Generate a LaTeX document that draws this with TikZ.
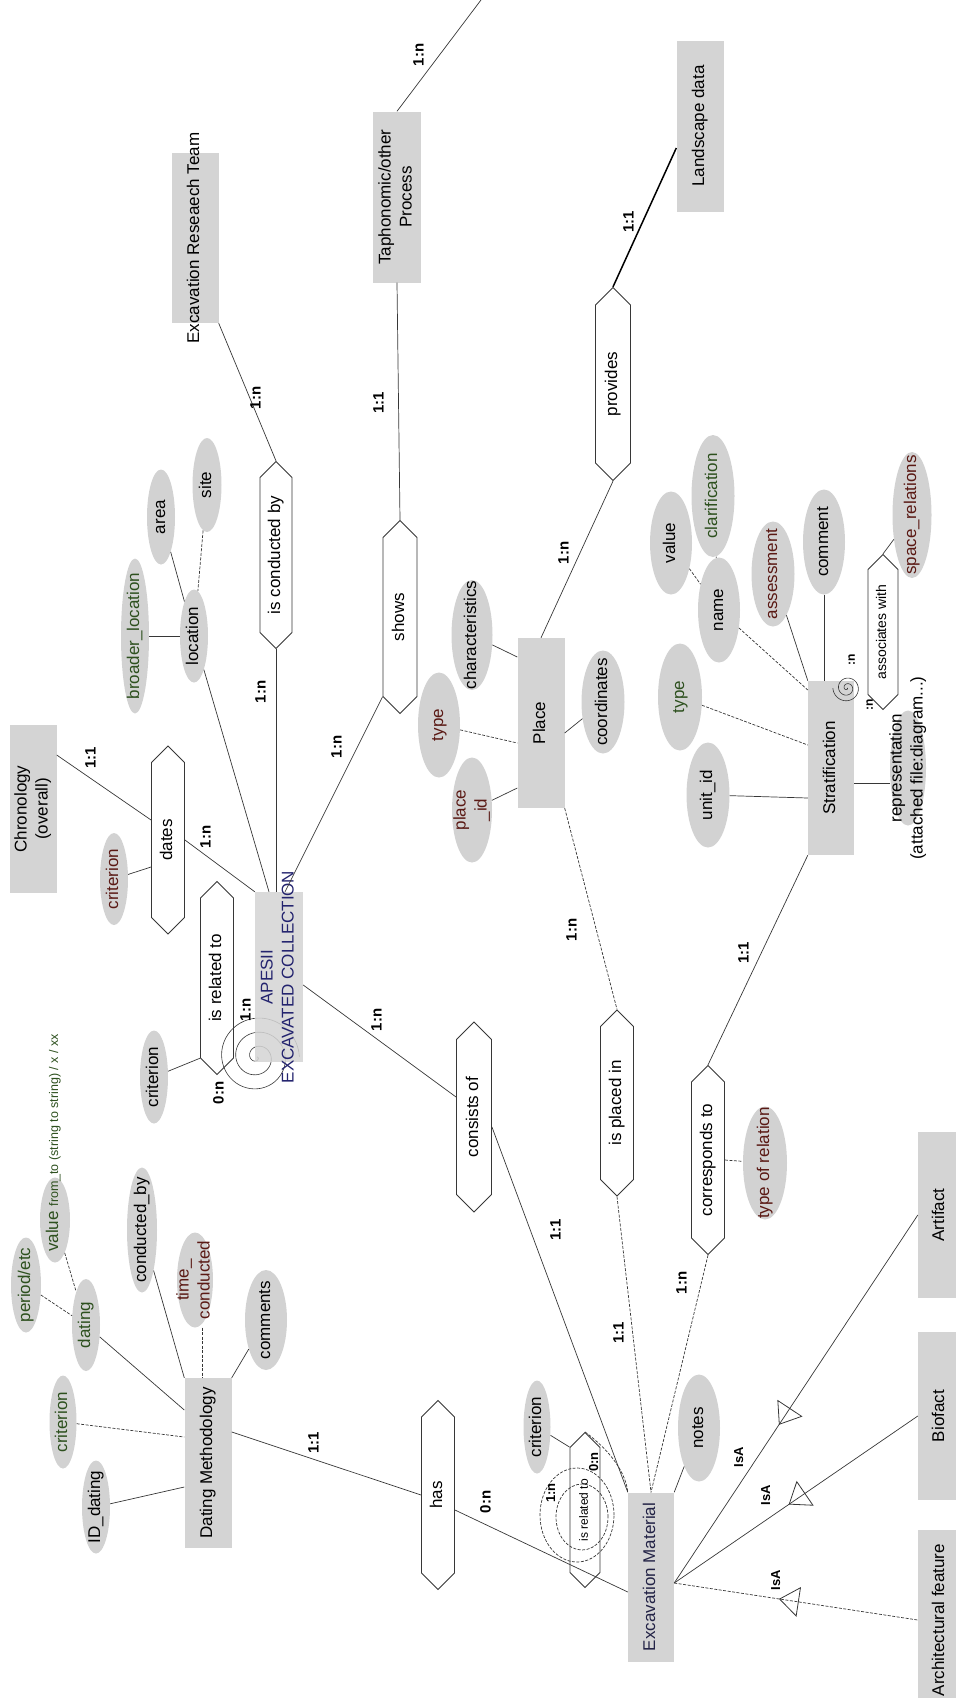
\documentclass[tikz,border=0pt]{standalone}
\usepackage{fontspec}
\setmainfont{Liberation Sans}
\usetikzlibrary{shapes.geometric,shapes.symbols,calc,decorations.markings,arrows.meta}
\definecolor{boxgray}{RGB}{212,212,212}
\definecolor{ellgray}{RGB}{210,210,210}
\definecolor{linec}{RGB}{55,55,55}
\definecolor{attrgreen}{RGB}{45,80,30}
\definecolor{attrred}{RGB}{90,25,20}
\definecolor{navy}{RGB}{35,35,110}
\definecolor{emtext}{RGB}{35,35,70}
\newcommand\vt[1]{\makebox[0pt]{\smash{\raisebox{-.5\height}{\rotatebox{90}{\begin{tabular}{@{}c@{}}#1\end{tabular}}}}}}
\begin{document}
\begin{tikzpicture}[x=1pt,y=-1pt,
  sz/.style 2 args={minimum width=#1pt, minimum height=#2pt},
  ent/.style={rectangle, fill=boxgray, inner sep=0pt, font=\fontsize{17}{21}\selectfont},
  attr/.style={ellipse, fill=ellgray, inner sep=0pt, font=\fontsize{17}{21}\selectfont},
  rel/.style={signal, signal to=north and south, signal pointer angle=90, draw=linec, line width=0.9pt, fill=white, inner sep=0pt, font=\fontsize{17}{21}\selectfont},
  conn/.style={draw=linec, line width=0.7pt},
  dsh/.style={conn, dash pattern=on 3pt off 1.5pt},
  card/.style={inner sep=0pt, font=\bfseries\fontsize{15}{18}\selectfont},
  isal/.style={inner sep=0pt, font=\bfseries\fontsize{13}{16}\selectfont},
  isa/.style={postaction={decorate, decoration={markings, mark=at position #1 with {\arrowreversed[line width=0.8pt, solid]{Triangle[open, length=20pt, width=30pt]}}}}},
]
\useasboundingbox (0,0) rectangle (956,1698);
\clip (0,0) rectangle (956,1698);

% ---------- entities
\node[ent, sz={47}{170}] (ert) at (195,238) {\vt{Excavation Reseaech Team}};
\node[ent, sz={48}{171}] (tap) at (397,197) {\vt{Taphonomic/other\\Process}};
\node[ent, sz={47}{171}] (land) at (700,126) {\vt{Landscape data}};
\node[ent, sz={47}{168}] (chron) at (33,809) {\vt{Chronology\\(overall)}};
\node[ent, sz={47}{170}] (place) at (541,723) {\vt{Place}};
\node[ent, sz={46}{174}] (strat) at (831,768) {\vt{Stratification}};
\node[ent, sz={47}{170}] (dm) at (208,1463) {\vt{Dating Methodology}};
\node[ent, sz={46}{169}, text=emtext] (em) at (651,1577) {\vt{Excavation Material}};
\node[ent, sz={44}{166}] (art) at (940,1215) {\vt{Artifact}};
\node[ent, sz={44}{168}] (bio) at (940,1416) {\vt{Biofact}};
\node[ent, sz={44}{180}] (arch) at (940,1620) {\vt{Architectural feature}};

% ---------- relationships
\node[rel, sz={32}{155}] (conducted) at (276,555) {\vt{is conducted by}};
\node[rel, sz={34}{159}] (shows) at (400,617) {\vt{shows}};
\node[rel, sz={35}{158}] (provides) at (613,384) {\vt{provides}};
\node[rel, sz={33}{155}] (dates) at (168,840) {\vt{dates}};
\node[rel, sz={33}{160}] (rel1) at (217,978) {\vt{is related to}};
\node[rel, sz={35}{155}] (consists) at (474,1117) {\vt{consists of}};
\node[rel, sz={33}{153}] (placedin) at (617,1103) {\vt{is placed in}};
\node[rel, sz={33}{156}] (corresp) at (708,1160) {\vt{corresponds to}};
\node[rel, sz={33}{156}] (has) at (438,1495) {\vt{has}};
\node[rel, sz={30}{125}, font=\fontsize{12}{14}\selectfont] (rel2) at (585,1510) {\vt{is related to}};
\node[rel, sz={30}{125}, font=\fontsize{14}{16}\selectfont] (assoc) at (883,632) {\vt{associates with}};

% ---------- attributes
\node[attr, sz={28}{155}, text=attrgreen] (broader) at (135,636) {\vt{broader\_location}};
\node[attr, sz={28}{93}] (location) at (194,636) {\vt{location}};
\node[attr, sz={28}{95}] (area) at (161,517) {\vt{area}};
\node[attr, sz={29}{94}] (site) at (207,485) {\vt{site}};
\node[attr, sz={28}{92}, text=attrred] (crit1) at (114,879) {\vt{criterion}};
\node[attr, sz={28}{93}] (crit2) at (154,1077) {\vt{criterion}};
\node[attr, sz={41}{110}] (charac) at (472,635) {\vt{characteristics}};
\node[attr, sz={42}{105}, text=attrred] (ptype) at (439,725) {\vt{type}};
\node[attr, sz={40}{105}, text=attrred] (pid) at (472,810) {\vt{place\\\_id}};
\node[attr, sz={43}{103}] (coord) at (603,702) {\vt{coordinates}};
\node[attr, sz={43}{105}] (uid) at (708,795) {\vt{unit\_id}};
\node[attr, sz={44}{107}, text=attrgreen] (stype) at (680,697) {\vt{type}};
\node[attr, sz={42}{105}] (name) at (719,610) {\vt{name}};
\node[attr, sz={42}{103}] (value) at (671,543) {\vt{value}};
\node[attr, sz={43}{122}, text=attrgreen] (clar) at (713,496) {\vt{clarification}};
\node[attr, sz={43}{105}, text=attrred] (assess) at (773,574) {\vt{assessment}};
\node[attr, sz={42}{105}] (comment) at (824,542) {\vt{comment}};
\node[attr, sz={39}{126}, text=attrred] (space) at (912,515) {\vt{space\_relations}};
\node[attr, sz={36}{115}] (repr) at (908,768) {\vt{representation\\(attached file:diagram...)}};
\node[attr, sz={27}{93}, text=attrgreen] (critDM) at (63,1422) {\vt{criterion}};
\node[attr, sz={28}{93}] (iddat) at (96,1507) {\vt{ID\_dating}};
\node[attr, sz={28}{92}, text=attrgreen] (dating) at (86,1325) {\vt{dating}};
\node[attr, sz={30}{95}, text=attrgreen] (period) at (26,1285) {\vt{period/etc}};
\node[attr, sz={30}{85}] (valft) at (55,1220) {};
\node[inner sep=0pt, text=attrgreen, font=\fontsize{17}{21}\selectfont] (valtxt) at (54,1143) {\vt{value {\fontsize{12.5}{14}\selectfont from\_to (string to string) / x / xx}}};
\node[attr, sz={36}{95}, text=attrred] (timec) at (195,1280) {\vt{time\_\\conducted}};
\node[attr, sz={30}{125}] (condby) at (142,1230) {\vt{conducted\_by}};
\node[attr, sz={42}{100}] (comments) at (266,1320) {\vt{comments}};
\node[attr, sz={27}{93}] (critEM) at (537,1427) {\vt{criterion}};
\node[attr, sz={42}{107}] (notes) at (699,1428) {\vt{notes}};
\node[attr, sz={44}{113}, text=attrred] (typerel) at (765,1163) {\vt{type of relation}};

% APESII box (drawn after its spiral)
\draw[conn, line width=0.6pt] plot[domain=0:18.85, samples=160, smooth, variable=\t] ({257+2.25*\t*cos(\t r)}, {1057+2.25*\t*sin(\t r)});
\node[ent, sz={48}{170}, text=navy, fill opacity=0.85, text opacity=1] (apes) at (279,977) {\vt{APESII\\EXCAVATED COLLECTION}};

% ---------- connectors
\coordinate (topend) at (484,-4);
\draw[conn] (ert.south east) -- (conducted.north);
\draw[conn] (tap.north) -- (topend);
\draw[conn] (tap.south) -- (shows.north);
\draw[draw=black, line width=1.5pt] (provides.north) -- ([yshift=-22pt]land.west);
\draw[conn] (place.north) -- (provides.south);
\draw[conn] (conducted.south) -- (conducted.south |- apes.north);
\draw[conn] (location) -- ([xshift=-10pt]apes.north);
\draw[conn] (shows.south west) -- ([xshift=6pt]apes.north);
\draw[conn] (dates.east) -- (apes.north west);
\draw[conn] ([yshift=54pt]chron.east) -- ([yshift=20pt]dates.west);
\draw[conn] (crit1) -- ([yshift=-27pt]dates.west);
\draw[conn] (broader) -- (location);
\draw[conn] (area) -- (location);
\draw[dsh] (site) -- (location);
\draw[conn] ([yshift=-8pt]apes.east) -- ([yshift=20pt]consists.west);
\draw[conn] ([yshift=-10pt]consists.east) -- (em.north west);
\draw[dsh] (place.south east) -- (placedin.north);
\draw[dsh] (placedin.south) -- (em.north);
\draw[conn] (strat.south west) -- (corresp.north);
\draw[dsh] (corresp.south) -- (em.north);
\draw[dsh] (corresp.east) -- (typerel);
\draw[conn] (crit2) -- (rel1.south west);
% place
\draw[conn] (charac) -- ([yshift=66pt]place.west);
\draw[dsh] (ptype) -- ([yshift=-20pt]place.west);
\draw[conn] (pid) -- ([yshift=-65pt]place.west);
\draw[conn] (coord) -- ([yshift=-10pt]place.east);
% stratification
\draw[conn] (uid) -- ([yshift=-30pt]strat.west);
\draw[dsh] (stype) -- ([yshift=23pt]strat.west);
\draw[dsh] (name) -- ([yshift=78pt]strat.west);
\draw[conn] (assess) -- (strat.north west);
\draw[conn] (comment.south) -- (comment.south |- strat.north);
\draw[dsh] (value) -- (name);
\draw[conn] (clar) -- (name);
\draw[conn] ([yshift=-15pt]strat.east) -- ([yshift=-15pt]repr.west);
\draw[conn] (assoc.north) -- (space);
\draw[conn, line width=0.6pt] plot[domain=0:15.7, samples=120, smooth, variable=\t] ({847+0.9*\t*cos(\t r)}, {688+0.9*\t*sin(\t r)});
% dating methodology
\draw[conn] (iddat) -- ([yshift=-24pt]dm.west);
\draw[dsh] (critDM) -- ([yshift=26pt]dm.west);
\draw[conn] (dating) -- ([yshift=53pt]dm.west);
\draw[conn] (condby) -- (dm.north west);
\draw[dsh] ([xshift=7pt]timec.south) -- ([xshift=7pt]timec.south |- dm.north);
\draw[conn] (comments) -- (dm.north east);
\draw[dsh] (period) -- (dating);
\draw[dsh] (valft) -- (dating);
\draw[conn] ([yshift=31pt]dm.east) -- (has.west);
\draw[conn] ([yshift=-15pt]has.east) -- ([yshift=-15pt]em.west);
\draw[conn] (em.north east) -- (notes);
% excavation material self relation
\draw[dsh] (577,1515) ellipse [x radius=37pt, y radius=47pt];
\draw[dsh] (582,1517) ellipse [x radius=26pt, y radius=33pt];
\draw[dsh] (rel2.north) .. controls (612,1452) and (626,1474) .. (em.north west);
\draw[conn] (critEM) -- (rel2.north west);
% IsA
\draw[conn, isa=0.43] ([yshift=-6pt]em.east) -- (art.west);
\draw[conn, isa=0.47] ([yshift=-6pt]em.east) -- (bio.west);
\draw[dsh, isa=0.43] ([yshift=-6pt]em.east) -- (arch.west);
\node[isal] (isa1) at (740,1457) {\vt{IsA}};
\node[isal] (isa2) at (767,1495) {\vt{IsA}};
\node[isal] (isa3) at (777,1580) {\vt{IsA}};

% ---------- cardinalities
\node[card] (c1) at (257,398) {\vt{1:n}};
\node[card] (c2) at (420,55) {\vt{1:n}};
\node[card] (c3) at (380,403) {\vt{1:1}};
\node[card] (c4) at (630,222) {\vt{1:1}};
\node[card] (c5) at (565,553) {\vt{1:n}};
\node[card] (c6) at (262,692) {\vt{1:n}};
\node[card] (c7) at (338,747) {\vt{1:n}};
\node[card] (c8) at (207,837) {\vt{1:n}};
\node[card] (c9) at (92,758) {\vt{1:1}};
\node[card] (c10) at (378,1020) {\vt{1:n}};
\node[card] (c11) at (557,1230) {\vt{1:1}};
\node[card] (c12) at (573,930) {\vt{1:n}};
\node[card] (c13) at (620,1333) {\vt{1:1}};
\node[card] (c14) at (745,953) {\vt{1:1}};
\node[card] (c15) at (683,1283) {\vt{1:n}};
\node[card] (c16) at (315,1443) {\vt{1:1}};
\node[card] (c17) at (487,1502) {\vt{0:n}};
\node[card] (c18) at (247,1010) {\vt{1:n}};
\node[card] (c19) at (220,1093) {\vt{0:n}};
\node[card, font=\bfseries\fontsize{13}{15}\selectfont] (c20) at (552,1493) {\vt{1:n}};
\node[card, font=\bfseries\fontsize{13}{15}\selectfont] (c21) at (595,1462) {\vt{0:n}};
\node[card, font=\bfseries\fontsize{12}{14}\selectfont] (c22) at (852,660) {\vt{:n}};
\node[card, font=\bfseries\fontsize{12}{14}\selectfont] (c23) at (870,705) {\vt{:n}};
\end{tikzpicture}
\end{document}
